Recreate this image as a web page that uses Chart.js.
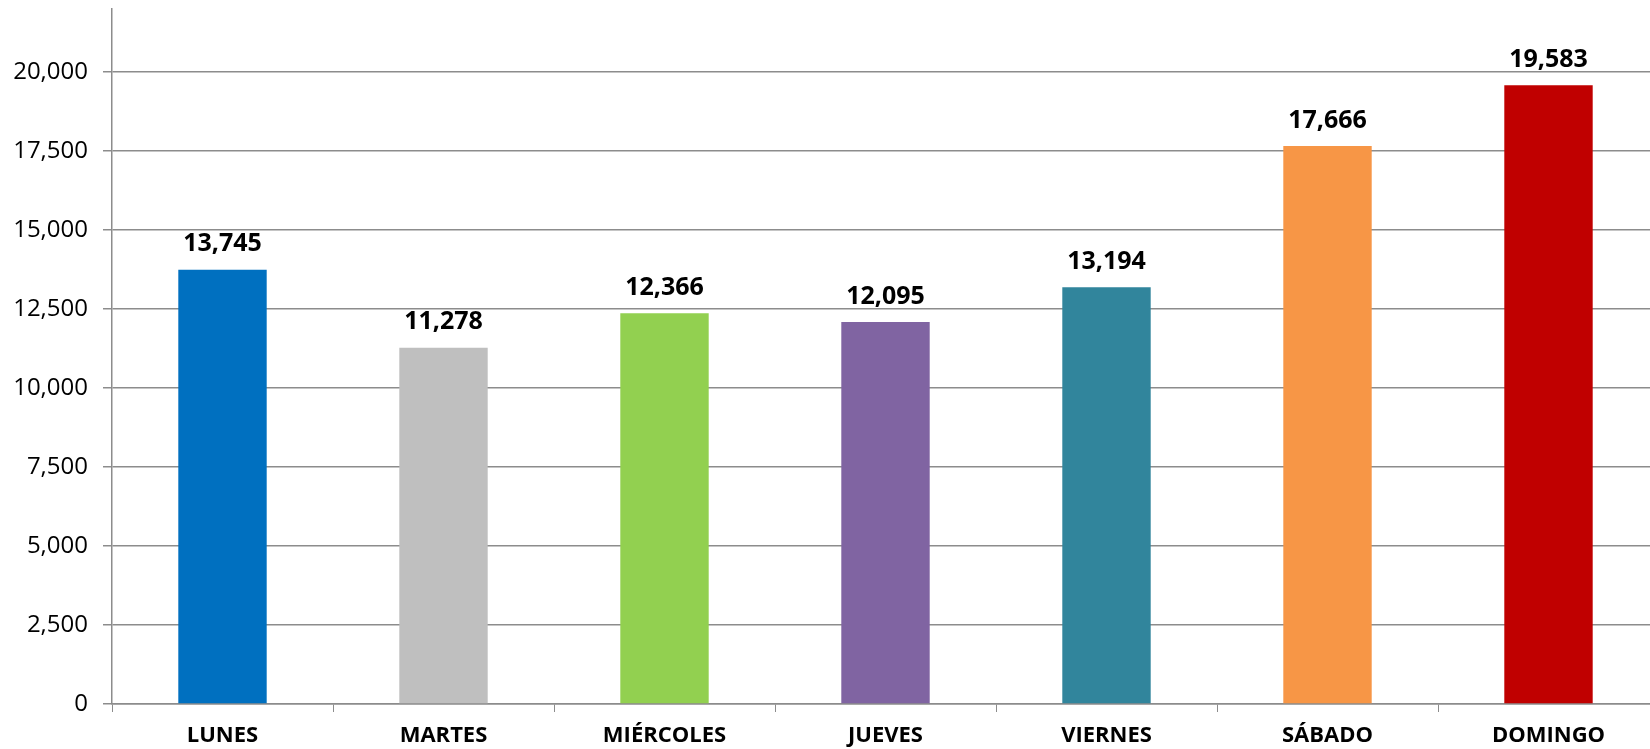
<!DOCTYPE html>
<html>
<head>
<meta charset="utf-8">
<script src="https://cdn.jsdelivr.net/npm/chart.js"></script>
<style>
    html, body { margin: 0; padding: 0; background: #fff; overflow: hidden; }
    #wrap { position: relative; width: 1659px; height: 749px; }
</style>
</head>
<body>
<div id="wrap"><canvas id="dias-chart"></canvas></div>
<script>
// ===== DATA =====
const dias = ['LUNES', 'MARTES', 'MIÉRCOLES', 'JUEVES', 'VIERNES', 'SÁBADO', 'DOMINGO'];
const visitas = [13745, 11278, 12366, 12095, 13194, 17666, 19583];
const colores = ['#0070C0', '#BFBFBF', '#92D050', '#8064A2', '#31859C', '#F79646', '#C00000'];
const yTicks = [0, 2500, 5000, 7500, 10000, 12500, 15000, 17500, 20000];
const yMax = 22000;

const GRID = '#8C8C8C';
const FONT = '"Open Sans", "Noto Sans", sans-serif';

const fmt = (v) => v.toLocaleString('en-US');

// Value labels above each bar
const barLabels = {
    id: 'barLabels',
    afterDatasetsDraw(chart) {
        const ctx = chart.ctx;
        const meta = chart.getDatasetMeta(0);
        ctx.save();
        ctx.font = `bold 25px ${FONT}`;
        ctx.fillStyle = '#000';
        ctx.textAlign = 'center';
        ctx.textBaseline = 'bottom';
        meta.data.forEach((bar, i) => {
            ctx.fillText(fmt(visitas[i]), bar.x, bar.y - 13);
        });
        ctx.restore();
    }
};

document.addEventListener('DOMContentLoaded', () => {
    const ctx = document.getElementById('dias-chart').getContext('2d');
    new Chart(ctx, {
        type: 'bar',
        data: {
            labels: dias,
            datasets: [{
                data: visitas,
                backgroundColor: colores,
                borderWidth: 0,
                categoryPercentage: 1,
                barPercentage: 0.4
            }]
        },
        options: {
            responsive: true,
            maintainAspectRatio: false,
            animation: false,
            layout: { padding: 0 },
            plugins: {
                legend: { display: false },
                tooltip: { enabled: false }
            },
            scales: {
                x: {
                    offset: true,
                    grid: {
                        offset: true,
                        drawOnChartArea: false,
                        drawTicks: true,
                        tickLength: 8,
                        color: GRID
                    },
                    border: { color: GRID, width: 1.5 },
                    ticks: {
                        color: '#000',
                        padding: 11,
                        font: { family: FONT, size: 22, weight: 'bold' }
                    },
                    afterFit: (scale) => { scale.height = 45; }
                },
                y: {
                    min: 0,
                    max: yMax,
                    afterBuildTicks: (scale) => {
                        scale.ticks = yTicks.map(v => ({ value: v }));
                    },
                    grid: {
                        color: GRID,
                        lineWidth: 1.5,
                        tickLength: 9
                    },
                    border: { color: GRID, width: 1.5 },
                    ticks: {
                        color: '#000',
                        padding: 15,
                        font: { family: FONT, size: 24 },
                        callback: (value) => fmt(value)
                    },
                    afterFit: (scale) => {
                        scale.width = 112;
                        scale.paddingTop = 9;
                        scale.paddingBottom = 0;
                    }
                }
            }
        },
        plugins: [barLabels]
    });
});
</script>
</body>
</html>
